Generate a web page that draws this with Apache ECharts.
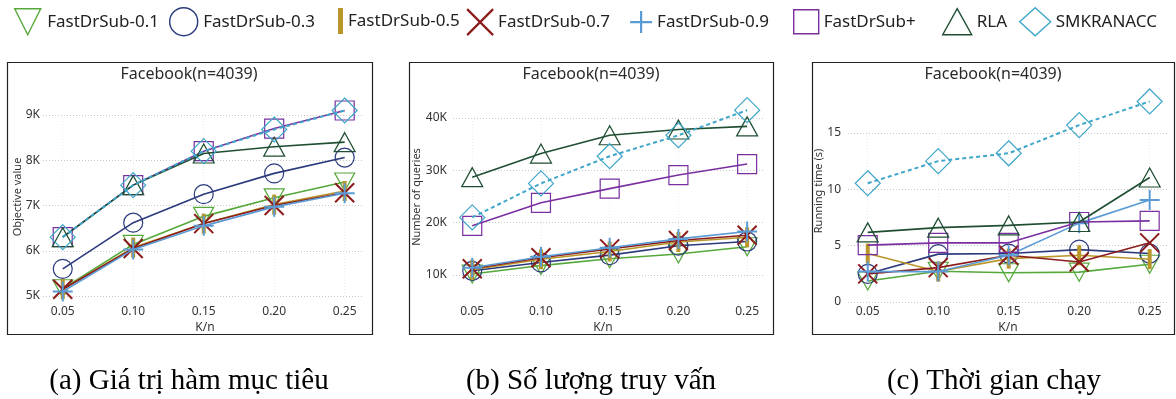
<!DOCTYPE html>
<html><head><meta charset="utf-8">
<script src="https://cdn.jsdelivr.net/npm/echarts@6/dist/echarts.min.js"></script>
<style>html,body{margin:0;padding:0;background:#fff}#c{width:1176px;height:399px}</style>
</head><body><div id="c"></div>
<script>
// ---------- data ----------
const categories = ['0.05', '0.10', '0.15', '0.20', '0.25'];
const seriesNames = ['FastDrSub-0.1', 'FastDrSub-0.3', 'FastDrSub-0.5', 'FastDrSub-0.7', 'FastDrSub-0.9', 'FastDrSub+', 'RLA', 'SMKRANACC'];
const panelTitles = ['Facebook(n=4039)', 'Facebook(n=4039)', 'Facebook(n=4039)'];
const yAxisNames = ['Objective value', 'Number of queries', 'Running time (s)'];
const xAxisName = 'K/n';
const captions = ['(a) Giá trị hàm mục tiêu', '(b) Số lượng truy vấn', '(c) Thời gian chạy'];
const yTicksObjective = [5000, 6000, 7000, 8000, 9000];
const yTicksQueries = [10000, 20000, 30000, 40000];
const yTicksTime = [0, 5, 10, 15];

const objF01 = [5160, 6140, 6760, 7170, 7520];
const objF03 = [5600, 6620, 7250, 7710, 8060];
const objF05 = [5150, 6070, 6600, 7020, 7320];
const objF07 = [5150, 6050, 6600, 7000, 7280];
const objF09 = [5100, 6030, 6550, 6970, 7270];
const objFPlus = [6300, 7450, 8200, 8700, 9100];
const objRLA = [6300, 7450, 8150, 8300, 8400];
const objSMK = [6300, 7450, 8200, 8680, 9100];

const qryF01 = [10200, 11800, 13100, 14000, 15400];
const qryF03 = [10800, 12400, 13800, 15600, 16400];
const qryF05 = [11000, 13000, 14500, 16300, 17200];
const qryF07 = [11200, 13300, 15000, 16600, 17600];
const qryF09 = [11400, 13500, 15200, 16900, 18300];
const qryFPlus = [19400, 23800, 26500, 29100, 31200];
const qryRLA = [28700, 33200, 36700, 37800, 38400];
const qrySMK = [21000, 27500, 32700, 36700, 41500];

const timeF01 = [1.87, 2.73, 2.6, 2.65, 3.35];
const timeF03 = [2.5, 4.25, 4.3, 4.65, 4.3];
const timeF05 = [4.3, 2.7, 3.85, 4.15, 3.8];
const timeF07 = [2.5, 3.05, 4.15, 3.55, 5.25];
const timeF09 = [2.7, 2.7, 4.15, 7.0, 9.05];
const timeFPlus = [5.05, 5.25, 5.25, 7.1, 7.2];
const timeRLA = [6.18, 6.6, 6.8, 7.1, 11.05];
const timeSMK = [10.54, 12.5, 13.2, 15.7, 17.8];

// ---------- styles ----------
const xVals = categories.map(Number);
const panelData = [
  [objF01, objF03, objF05, objF07, objF09, objFPlus, objRLA, objSMK],
  [qryF01, qryF03, qryF05, qryF07, qryF09, qryFPlus, qryRLA, qrySMK],
  [timeF01, timeF03, timeF05, timeF07, timeF09, timeFPlus, timeRLA, timeSMK]
];
const yTicks = [yTicksObjective, yTicksQueries, yTicksTime];
const colors = ['#55a83a', '#2b3a7c', '#b8962a', '#8b1c1c', '#5b9bd5', '#7a2fa0', '#1f4e32', '#3ea6c8'];
const TRI_DOWN = 'path://M0,0 L10,0 L5,10 Z';
const CROSS = 'path://M0,0 L10,10 M10,0 L0,10';
const PLUS = 'path://M5,0 L5,10 M0,5 L10,5';
const symbols = [TRI_DOWN, 'circle', 'rect', CROSS, PLUS, 'rect', 'triangle', 'diamond'];
const symSizes = [[20, 18], 19, [4, 20], 19, 20, 19, [21, 19], 25];
const TRANSP = 'rgba(255,255,255,0)';

const grids = [
  {left: 43, top: 115, width: 320, height: 181},
  {left: 453, top: 118, width: 312, height: 157},
  {left: 848, top: 133, width: 320, height: 169}
];
const xLabelMargin = [10, 31, 4];
const yLabelMargin = [3, 6, 7];
const FONT = 'Noto Sans';

function fmtY(v) { return v >= 1000 ? (v / 1000) + 'K' : String(v); }

const xAxes = [], yAxes = [], series = [];
grids.forEach((g, p) => {
  xAxes.push({
    type: 'value', gridIndex: p, min: 0.036, max: 0.263,
    axisLine: {show: false},
    axisTick: {show: false, customValues: xVals},
    axisLabel: {customValues: xVals, margin: xLabelMargin[p], fontSize: 12, color: '#333', fontFamily: FONT,
      formatter: v => categories[xVals.indexOf(v)] !== undefined ? categories[xVals.indexOf(v)] : v.toFixed(2)},
    splitLine: {show: true, lineStyle: {type: [1, 2], color: '#ececec', width: 1}}
  });
  const t = yTicks[p];
  yAxes.push({
    type: 'value', gridIndex: p, min: t[0], max: t[t.length - 1], interval: t[1] - t[0],
    axisLine: {show: false}, axisTick: {show: false},
    axisLabel: {margin: yLabelMargin[p], fontSize: 12, color: '#333', fontFamily: FONT, formatter: fmtY},
    splitLine: {show: true, lineStyle: {type: [1, 2], color: '#c8c8c8', width: 1}}
  });
  panelData[p].forEach((arr, s) => {
    const c = colors[s];
    const isBar = s === 2;
    series.push({
      name: seriesNames[s], type: 'line', xAxisIndex: p, yAxisIndex: p,
      data: xVals.map((x, j) => [x, arr[j]]),
      symbol: symbols[s], symbolSize: symSizes[s],
      clip: false, silent: true, animation: false,
      z: 2 + s,
      lineStyle: {color: c, width: s === 7 ? 2 : 1.6, type: s === 7 ? [4, 3] : 'solid'},
      itemStyle: isBar ? {color: c} : {color: TRANSP, borderColor: c, borderWidth: (s === 3 || s === 4) ? 2 : 1.2},
      emphasis: {disabled: true}
    });
  });
});

// legend items: [text start x]
const legendTextX = [48, 203, 348, 497, 656, 823, 976, 1055];
const legendIconW = [29, 29, 5, 26, 22, 25, 29, 31];
const legendIconH = [26, 28, 26, 26, 22, 24, 26, 28];
const legends = seriesNames.map((n, s) => {
  const c = colors[s];
  const isBar = s === 2;
  return {
    left: legendTextX[s] - 5 - legendIconW[s], top: 21 - legendIconH[s] / 2,
    itemWidth: legendIconW[s], itemHeight: legendIconH[s],
    selectedMode: false, padding: 0,
    textStyle: {fontSize: 17, color: '#222', fontFamily: FONT},
    data: [{name: n, icon: symbols[s],
      itemStyle: isBar ? {color: c, borderWidth: 0} : {color: TRANSP, borderColor: c, borderWidth: (s === 3 || s === 4) ? 2.2 : 1.4}}]
  };
});

const boxes = [[7, 62, 365, 272], [409, 62, 364, 272], [812, 62, 362, 272]];
const titleCX = [189, 591, 993];
const yNamePos = [[18, 197], [417, 197], [819, 191]];
const xNamePos = [[205, 328], [603, 328], [1008, 328]];
const captionCX = [189, 591, 994];
const graphic = [];
boxes.forEach((b, p) => {
  graphic.push({type: 'rect', shape: {x: b[0] + 0.5, y: b[1] + 0.5, width: b[2], height: b[3]}, style: {fill: 'none', stroke: '#222', lineWidth: 1.2}, silent: true});
  graphic.push({type: 'text', x: titleCX[p], y: 74, style: {text: panelTitles[p], fill: '#2a2a2a', font: '16px "Noto Sans"', textAlign: 'center', textVerticalAlign: 'middle'}});
  graphic.push({type: 'text', x: yNamePos[p][0], y: yNamePos[p][1], rotation: Math.PI / 2, style: {text: yAxisNames[p], fill: '#333', font: '11px "Noto Sans"', textAlign: 'center', textVerticalAlign: 'middle'}});
  graphic.push({type: 'text', x: xNamePos[p][0], y: xNamePos[p][1], style: {text: xAxisName, fill: '#333', font: '12px "Noto Sans"', textAlign: 'center', textVerticalAlign: 'middle'}});
  graphic.push({type: 'text', x: captionCX[p], y: 381, style: {text: captions[p], fill: '#000', font: '29px "Liberation Serif"', textAlign: 'center', textVerticalAlign: 'middle'}});
});

const chart = echarts.init(document.getElementById('c'), null, {renderer: 'canvas'});
chart.setOption({
  animation: false,
  backgroundColor: '#fff',
  grid: grids,
  xAxis: xAxes,
  yAxis: yAxes,
  legend: legends,
  series: series,
  graphic: graphic
});
</script></body></html>
